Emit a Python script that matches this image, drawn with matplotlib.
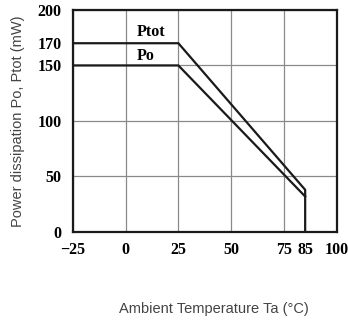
import matplotlib
matplotlib.use("Agg")
import matplotlib.pyplot as plt

# data
temp_ptot = [-25, 25, 85, 85]
ptot = [170, 170, 38, 0]
temp_po = [-25, 25, 85]
po = [150, 150, 32]

xticks = [-25, 0, 25, 50, 75, 85, 100]
yticks = [0, 50, 100, 150, 170, 200]

fig = plt.figure(figsize=(3.48, 3.2), dpi=100)
ax = fig.add_axes([0.209, 0.275, 0.759, 0.694])

ax.plot(temp_ptot, ptot, color="#1a1a1a", lw=1.6, solid_joinstyle="miter", zorder=3)
ax.plot(temp_po, po, color="#1a1a1a", lw=1.6, solid_joinstyle="miter", zorder=3)

ax.set_xlim(-25, 100)
ax.set_ylim(0, 200)
ax.set_xticks(xticks)
ax.set_yticks(yticks)

tick_font = dict(family="Liberation Serif", weight="bold", size=11.5)
ax.set_xticklabels(["\u221225", "0", "25", "50", "75", "85", "100"], **tick_font)
ax.set_yticklabels([str(v) for v in yticks], **tick_font)
ax.tick_params(length=0)
ax.tick_params(axis="x", pad=7)
ax.tick_params(axis="y", pad=8)

ax.grid(True, color="#8a8a8a", lw=0.9)
# no grid line at 85 or 170
for i, t in enumerate(xticks):
    if t == 85:
        ax.xaxis.get_gridlines()[i].set_visible(False)
for i, t in enumerate(yticks):
    if t == 170:
        ax.yaxis.get_gridlines()[i].set_visible(False)
ax.set_axisbelow(True)

for s in ax.spines.values():
    s.set_linewidth(1.6)
    s.set_color("#1a1a1a")

ax.text(5.5, 180, "Ptot", ha="left", va="center", **tick_font)
ax.text(5.5, 158.5, "Po", ha="left", va="center", **tick_font)

ax.set_xlabel("Ambient Temperature Ta (\u00b0C)", family="Liberation Sans",
              size=10.5, color="#444444", va="center")
ax.xaxis.set_label_coords(0.615, 0.033, transform=fig.transFigure)
ax.set_ylabel("Power dissipation Po, Ptot (mW)", family="Liberation Sans",
              size=10.5, color="#444444", labelpad=9)

fig.savefig("out.png", dpi=100)
